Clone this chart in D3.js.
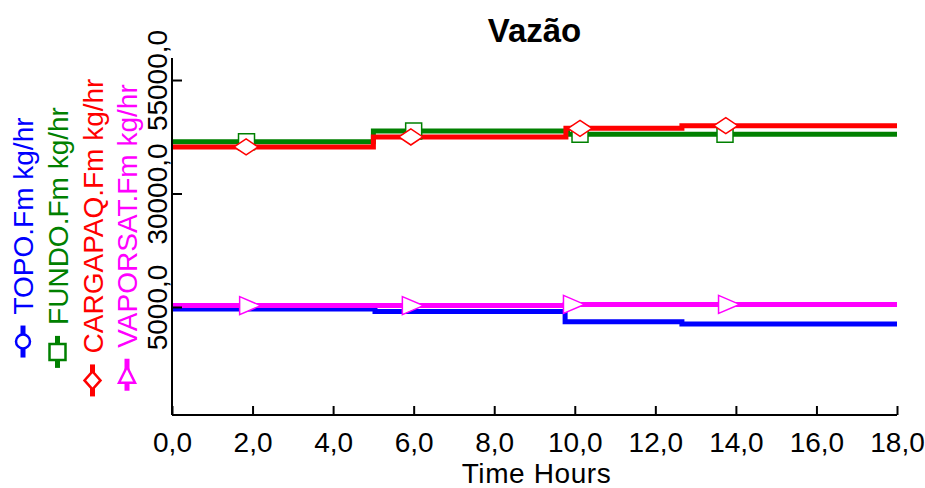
<!DOCTYPE html>
<html>
<head>
<meta charset="utf-8">
<script src="https://cdn.jsdelivr.net/npm/d3@7"></script>
<style>
  html, body { margin: 0; padding: 0; background: #fff; }
  svg { display: block; font-family: "Liberation Sans", Arial, sans-serif; }
</style>
</head>
<body>
<svg id="chart" width="925" height="488"></svg>
<script>
// ---- data ----
const title = "Vazão";
const xLabel = "Time Hours";
const xTicks = [0, 2, 4, 6, 8, 10, 12, 14, 16, 18];
const yTicks = [5000, 30000, 55000];

const seriesNames = ["TOPO.Fm kg/hr", "FUNDO.Fm kg/hr", "CARGAPAQ.Fm kg/hr", "VAPORSAT.Fm kg/hr"];

const topoT = [0, 5.04, 9.76, 12.66, 18];
const topoV = [4550, 4000, 1760, 1250, 1250];
const fundoT = [0, 5.0, 9.82, 18];
const fundoV = [41400, 43750, 43050, 43050];
const cargaT = [0, 5.0, 9.78, 12.66, 18];
const cargaV = [40250, 42450, 44360, 44930, 44930];
const vaporT = [0, 9.76, 18];
const vaporV = [5300, 5560, 5560];

const topoMk = [];
const fundoMk = [1.85, 6.0, 10.13, 13.73];
const cargaMk = [1.84, 5.93, 10.13, 13.75];
const vaporMk = [1.94, 5.98, 9.98, 13.83];

// ---- layout ----
const svg = d3.select("#chart");
const pL = 172, pR = 897, pT = 58, pB = 415;
const x = d3.scaleLinear().domain([0, 18]).range([pL, pR]);
const y = d3.scaleLinear().domain([-18800, 59850]).range([pB, pT]);
const fmt = v => d3.format(".1f")(v).replace(".", ",");

const series = [
  { name: seriesNames[0], t: topoT, v: topoV, mk: topoMk, color: "#0000ff", shape: "circle" },
  { name: seriesNames[1], t: fundoT, v: fundoV, mk: fundoMk, color: "#008000", shape: "square" },
  { name: seriesNames[2], t: cargaT, v: cargaV, mk: cargaMk, color: "#ff0000", shape: "diamond" },
  { name: seriesNames[3], t: vaporT, v: vaporV, mk: vaporMk, color: "#ff00ff", shape: "triangle" }
];

function valueAt(s, t) {
  const i = d3.bisectRight(s.t, t) - 1;
  return s.v[Math.max(0, Math.min(i, s.v.length - 1))];
}

function markerPath(shape, big) {
  if (shape === "circle") { const r = 7; return `M${-r},0A${r},${r} 0 1,0 ${r},0A${r},${r} 0 1,0 ${-r},0Z`; }
  if (shape === "square") { const h = 8; return `M${-h},${-h}H${h}V${h}H${-h}Z`; }
  if (shape === "diamond") { const w = big ? 9 : 12, hh = big ? 8 : 8; return `M${-w},0L0,${-hh}L${w},0L0,${hh}Z`; }
  if (shape === "triangle") { const w = big ? 8 : 10.5, hh = big ? 8 : 9; return `M${-w},${-hh}L${w},0L${-w},${hh}Z`; }
}

// ---- title ----
svg.append("text").attr("x", (pL + pR) / 2).attr("y", 42)
  .attr("text-anchor", "middle").attr("font-size", 33).attr("font-weight", "bold")
  .text(title);

// ---- lines ----
const line = d3.line().curve(d3.curveStepAfter).x(d => x(d[0])).y(d => y(d[1]));
const plot = svg.append("g");
series.forEach(s => {
  plot.append("path")
    .datum(s.t.map((t, i) => [t, s.v[i]]))
    .attr("d", line).attr("fill", "none")
    .attr("stroke", s.color).attr("stroke-width", 5);
});
series.forEach(s => {
  plot.selectAll(null).data(s.mk).enter().append("path")
    .attr("transform", t => `translate(${x(t)},${y(valueAt(s, t))})`)
    .attr("d", markerPath(s.shape, false))
    .attr("fill", "#fff").attr("stroke", s.color).attr("stroke-width", 1.5);
});

// ---- axes ----
const xAxis = d3.axisBottom(x).tickValues(xTicks).tickSize(-9).tickPadding(0).tickFormat(fmt);
const gx = svg.append("g").attr("transform", `translate(0,${pB})`).call(xAxis);
gx.select(".domain").attr("stroke", "#000").attr("stroke-width", 2).attr("d", `M${pL},0H${pR}`);
gx.selectAll(".tick line").attr("stroke", "#000").attr("stroke-width", 2);
gx.selectAll(".tick text").attr("y", 37).attr("dy", null)
  .attr("font-size", 28).attr("fill", "#000").attr("font-family", "Liberation Sans, Arial, sans-serif");

const yAxis = d3.axisLeft(y).tickValues(yTicks).tickSize(-10).tickFormat(fmt);
const gy = svg.append("g").attr("transform", `translate(${pL},0)`).call(yAxis);
gy.select(".domain").attr("stroke", "#000").attr("stroke-width", 2).attr("d", `M0,${pT}V${pB}`);
gy.selectAll(".tick line").attr("stroke", "#000").attr("stroke-width", 2);
gy.selectAll(".tick text")
  .attr("x", null).attr("dy", null)
  .attr("transform", "translate(-5,0) rotate(-90)")
  .attr("text-anchor", "middle").attr("y", 0)
  .attr("font-size", 28).attr("fill", "#000").attr("font-family", "Liberation Sans, Arial, sans-serif");

// ---- x label ----
svg.append("text").attr("x", (pL + pR) / 2 + 2).attr("y", 483)
  .attr("text-anchor", "middle").attr("font-size", 28).attr("letter-spacing", 0.6).text(xLabel);

// ---- legend (rotated) ----
const legendX = [23, 57.5, 92.5, 127];
const legendCenter = 237.5;
series.forEach((s, i) => {
  const g = svg.append("g");
  const txt = g.append("text").attr("x", 43).attr("y", 10)
    .attr("font-size", 28).attr("fill", s.color).text(s.name);
  const w = txt.node().getComputedTextLength();
  const total = 43 + w;
  g.insert("line", "text").attr("x1", 0).attr("x2", 32).attr("y1", 0).attr("y2", 0)
    .attr("stroke", s.color).attr("stroke-width", 5);
  g.insert("path", "text").attr("transform", "translate(16,0)")
    .attr("d", markerPath(s.shape, true))
    .attr("fill", "#fff").attr("stroke", s.color).attr("stroke-width", 2.5);
  g.attr("transform", `translate(${legendX[i]},${legendCenter + total / 2}) rotate(-90)`);
});
</script>
</body>
</html>
